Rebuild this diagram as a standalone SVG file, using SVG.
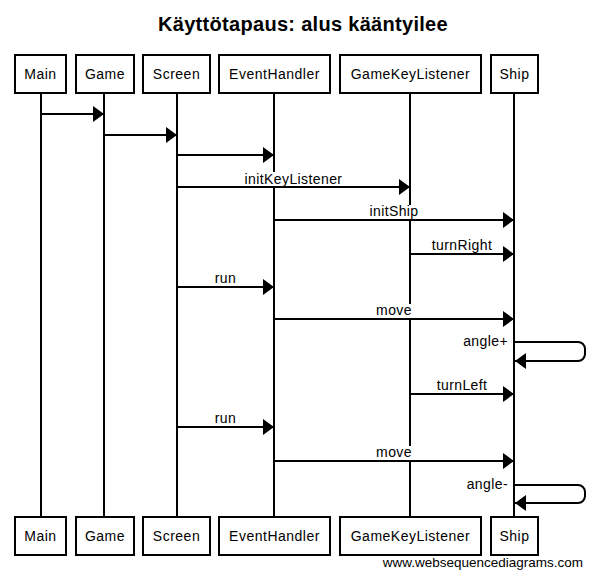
<svg xmlns="http://www.w3.org/2000/svg" width="595" height="578" viewBox="0 0 595 578">
<style>
.box{fill:#fff;stroke:#000;stroke-width:2}
.life{stroke:#000;stroke-width:2}
.name{font-family:"Liberation Sans",Arial,sans-serif;font-size:14px;letter-spacing:0.5px;text-anchor:middle;fill:#000}
.msg{stroke:#000;stroke-width:2;fill:none;marker-end:url(#arr)}
.lbl{font-family:"Liberation Sans",Arial,sans-serif;font-size:14px;letter-spacing:0.4px;text-anchor:middle;fill:#000}
.bg{fill:#fff}
</style>
<defs>
<marker id="arr" markerUnits="userSpaceOnUse" markerWidth="11" markerHeight="16" refX="11" refY="8" orient="auto">
<path d="M0,0 L11,8 L0,16 z" fill="#000"/>
</marker>
</defs>
<rect width="595" height="578" fill="#fff"/>
<text x="303" y="31" font-family="Liberation Sans,Arial,sans-serif" font-size="20" font-weight="bold" letter-spacing="0.3" text-anchor="middle">Käyttötapaus: alus kääntyilee</text>
<g id="lifelines">
<line class="life" x1="41" y1="93" x2="41" y2="517"/>
<line class="life" x1="104" y1="93" x2="104" y2="517"/>
<line class="life" x1="177" y1="93" x2="177" y2="517"/>
<line class="life" x1="274" y1="93" x2="274" y2="517"/>
<line class="life" x1="410" y1="93" x2="410" y2="517"/>
<line class="life" x1="514" y1="93" x2="514" y2="517"/>
</g>
<g id="Main">
<rect class="box" x="15" y="55" width="51" height="38"/><text class="name" x="40.5" y="79">Main</text>
<rect class="box" x="15" y="517" width="51" height="38"/><text class="name" x="40.5" y="541">Main</text>
</g>
<g id="Game">
<rect class="box" x="76" y="55" width="58" height="38"/><text class="name" x="105" y="79">Game</text>
<rect class="box" x="76" y="517" width="58" height="38"/><text class="name" x="105" y="541">Game</text>
</g>
<g id="Screen">
<rect class="box" x="143" y="55" width="67" height="38"/><text class="name" x="176.5" y="79">Screen</text>
<rect class="box" x="143" y="517" width="67" height="38"/><text class="name" x="176.5" y="541">Screen</text>
</g>
<g id="EventHandler">
<rect class="box" x="219" y="55" width="111" height="38"/><text class="name" x="274.5" y="79">EventHandler</text>
<rect class="box" x="219" y="517" width="111" height="38"/><text class="name" x="274.5" y="541">EventHandler</text>
</g>
<g id="GameKeyListener">
<rect class="box" x="340" y="55" width="141" height="38"/><text class="name" x="410.5" y="79">GameKeyListener</text>
<rect class="box" x="340" y="517" width="141" height="38"/><text class="name" x="410.5" y="541">GameKeyListener</text>
</g>
<g id="Ship">
<rect class="box" x="491" y="55" width="47" height="38"/><text class="name" x="514.5" y="79">Ship</text>
<rect class="box" x="491" y="517" width="47" height="38"/><text class="name" x="514.5" y="541">Ship</text>
</g>
<g id="connectors">
<line class="msg" x1="41" y1="114" x2="104" y2="114"/>
<line class="msg" x1="104" y1="135" x2="177" y2="135"/>
<line class="msg" x1="177" y1="155" x2="274" y2="155"/>
<rect class="bg" x="243" y="172" width="101" height="14"/>
<line class="msg" x1="177" y1="187" x2="410" y2="187"/>
<text class="lbl" x="293.5" y="184">initKeyListener</text>
<rect class="bg" x="371" y="205" width="48" height="14"/>
<line class="msg" x1="274" y1="220" x2="514" y2="220"/>
<text class="lbl" x="394" y="216">initShip</text>
<line class="msg" x1="410" y1="254" x2="514" y2="254"/>
<text class="lbl" x="462" y="250">turnRight</text>
<line class="msg" x1="177" y1="287" x2="274" y2="287"/>
<text class="lbl" x="225.5" y="283">run</text>
<rect class="bg" x="377" y="304" width="36" height="14"/>
<line class="msg" x1="274" y1="319" x2="514" y2="319"/>
<text class="lbl" x="394" y="315">move</text>
<path class="msg" d="M514,342 H578 A7,7 0 0 1 585,349 V354 A7,7 0 0 1 578,361 H515"/>
<text class="lbl" x="508" y="346" style="text-anchor:end">angle+</text>
<line class="msg" x1="410" y1="394" x2="514" y2="394"/>
<text class="lbl" x="462" y="390">turnLeft</text>
<line class="msg" x1="177" y1="427" x2="274" y2="427"/>
<text class="lbl" x="225.5" y="423">run</text>
<rect class="bg" x="377" y="446" width="36" height="14"/>
<line class="msg" x1="274" y1="461" x2="514" y2="461"/>
<text class="lbl" x="394" y="457">move</text>
<path class="msg" d="M514,485 H578 A7,7 0 0 1 585,492 V496 A7,7 0 0 1 578,503 H515"/>
<text class="lbl" x="508" y="489" style="text-anchor:end">angle-</text>
</g>
<text x="583" y="567" font-family="Liberation Sans,Arial,sans-serif" font-size="13.5" text-anchor="end">www.websequencediagrams.com</text>
</svg>
